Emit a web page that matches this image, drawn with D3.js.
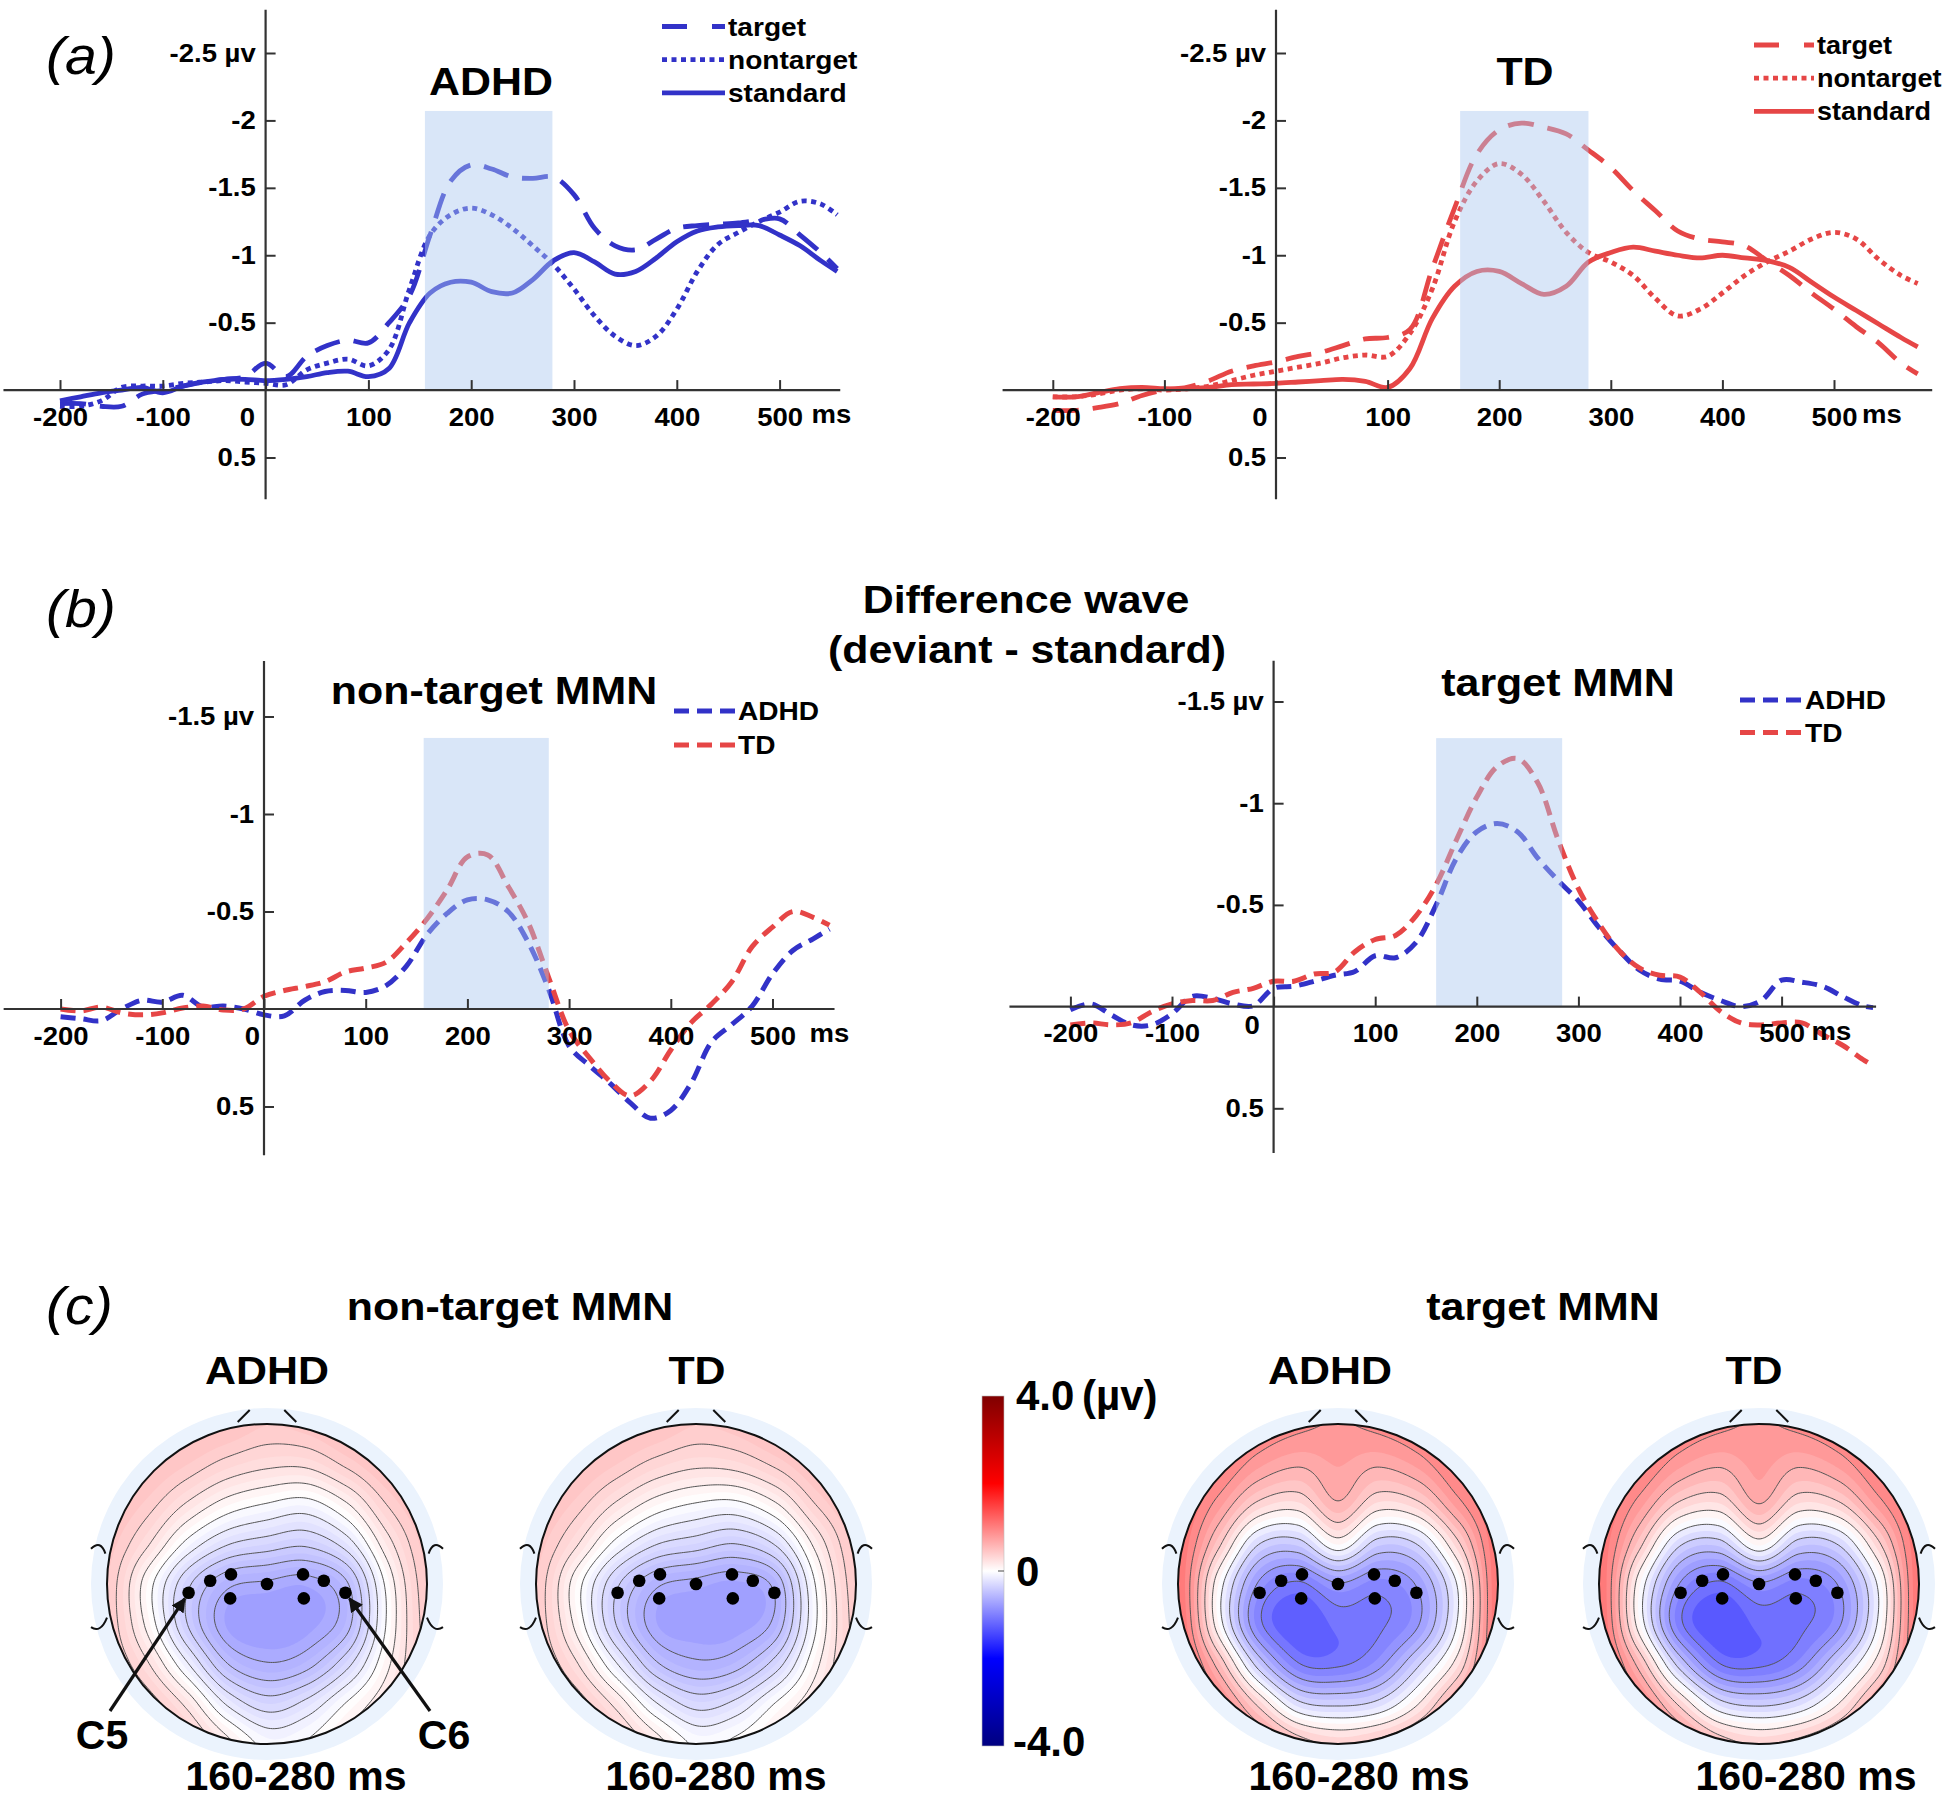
<!DOCTYPE html>
<html>
<head>
<meta charset="utf-8">
<title>MMN waves and topographies</title>
<script src="https://cdn.jsdelivr.net/npm/d3@7"></script>
<style>
  body { margin: 0; background: #fff; }
  svg text { font-family: "Liberation Sans", Arial, Helvetica, sans-serif; font-weight: bold; fill: #000; }
</style>
</head>
<body>
<svg id="figure" width="1949" height="1800"></svg>
<script>
// ---------- data (µV, negative plotted upward) ----------
var xTicks = [-200, -100, 0, 100, 200, 300, 400, 500];
var yTicksA = [-2.5, -2, -1.5, -1, -0.5, 0.5];
var yTicksB = [-1.5, -1, -0.5, 0.5];

var timeLeft = [-200,-180,-160,-140,-120,-100,-80,-60,-40,-20,0,20,40,60,80,100,120,140,160,180,200,220,240,260,280,300,320,340,360,380,400,420,440,460,480,500,520,540,556];
var timeRightA = [-200,-180,-160,-140,-120,-100,-80,-60,-40,-20,0,20,40,60,80,100,120,140,160,180,200,220,240,260,280,300,320,340,360,380,400,420,440,460,480,500,520,540,560,575];
var timeRightB = [-200,-180,-160,-140,-120,-100,-80,-60,-40,-20,0,20,40,60,80,100,120,140,160,180,200,220,240,260,280,300,320,340,360,380,400,420,440,460,480,500,520,540,560,580,590];

// (a) ADHD
var adhdTarget = [0.10,0.10,0.12,0.12,0.03,0.00,-0.03,-0.06,-0.08,-0.10,-0.20,-0.10,-0.25,-0.33,-0.37,-0.35,-0.50,-0.70,-1.15,-1.55,-1.67,-1.64,-1.58,-1.57,-1.58,-1.45,-1.20,-1.07,-1.04,-1.12,-1.20,-1.22,-1.23,-1.24,-1.26,-1.27,-1.15,-1.02,-0.90];
var adhdNontarget = [0.12,0.12,0.08,-0.02,-0.03,-0.03,-0.05,-0.06,-0.07,-0.06,-0.05,-0.04,-0.15,-0.20,-0.23,-0.18,-0.30,-0.75,-1.15,-1.30,-1.35,-1.30,-1.20,-1.07,-0.93,-0.75,-0.55,-0.40,-0.33,-0.40,-0.60,-0.88,-1.08,-1.17,-1.25,-1.32,-1.40,-1.38,-1.30];
var adhdStandard = [0.08,0.05,0.02,0.00,-0.02,0.02,-0.03,-0.06,-0.08,-0.08,-0.07,-0.08,-0.10,-0.13,-0.14,-0.10,-0.16,-0.50,-0.72,-0.80,-0.80,-0.73,-0.72,-0.82,-0.96,-1.02,-0.95,-0.86,-0.88,-0.98,-1.10,-1.18,-1.21,-1.22,-1.22,-1.15,-1.07,-0.96,-0.88];
// (a) TD
var tdTarget = [0.15,0.15,0.13,0.10,0.04,0.00,-0.02,-0.07,-0.14,-0.18,-0.21,-0.25,-0.28,-0.33,-0.38,-0.39,-0.45,-0.90,-1.35,-1.75,-1.93,-1.98,-1.95,-1.90,-1.78,-1.65,-1.48,-1.33,-1.18,-1.12,-1.10,-1.07,-0.96,-0.85,-0.72,-0.60,-0.47,-0.35,-0.20,-0.12];
var tdNontarget = [0.05,0.05,0.03,0.00,-0.01,0.00,-0.01,-0.03,-0.07,-0.11,-0.14,-0.17,-0.20,-0.24,-0.26,-0.25,-0.42,-0.75,-1.25,-1.55,-1.68,-1.60,-1.40,-1.17,-1.02,-0.95,-0.85,-0.68,-0.55,-0.60,-0.72,-0.85,-0.95,-1.03,-1.12,-1.17,-1.12,-0.97,-0.85,-0.79];
var tdStandard = [0.05,0.05,0.02,-0.01,-0.02,-0.01,-0.01,-0.02,-0.04,-0.045,-0.05,-0.06,-0.07,-0.08,-0.065,-0.02,-0.16,-0.53,-0.77,-0.88,-0.88,-0.79,-0.71,-0.77,-0.95,-1.02,-1.06,-1.03,-1.00,-0.98,-1.00,-0.98,-0.96,-0.91,-0.80,-0.69,-0.59,-0.49,-0.39,-0.32];
// (b) difference waves
var adhdNonMmn = [0.04,0.05,0.06,0.00,-0.045,-0.035,-0.07,-0.01,-0.015,0.00,0.03,0.035,-0.045,-0.09,-0.095,-0.085,-0.12,-0.22,-0.38,-0.49,-0.56,-0.56,-0.50,-0.34,-0.10,0.19,0.29,0.38,0.48,0.56,0.52,0.38,0.17,0.08,-0.015,-0.18,-0.30,-0.36,-0.41];
var tdNonMmn = [0.00,0.01,-0.01,0.02,0.03,0.02,-0.005,-0.015,0.005,0.00,-0.065,-0.095,-0.115,-0.14,-0.19,-0.21,-0.24,-0.34,-0.46,-0.61,-0.78,-0.79,-0.63,-0.44,-0.16,0.11,0.25,0.37,0.445,0.37,0.21,0.07,-0.025,-0.14,-0.32,-0.42,-0.50,-0.47,-0.43];
var adhdTarMmn = [0.015,-0.013,0.04,0.09,0.09,0.035,-0.05,-0.04,-0.013,-0.004,-0.09,-0.10,-0.125,-0.154,-0.173,-0.25,-0.24,-0.314,-0.50,-0.73,-0.86,-0.90,-0.86,-0.73,-0.62,-0.52,-0.39,-0.276,-0.18,-0.135,-0.125,-0.07,-0.03,0.00,-0.03,-0.13,-0.12,-0.10,-0.05,-0.004,0.005];
var tdTarMmn = [0.09,0.08,0.09,0.08,0.025,-0.013,-0.03,-0.03,-0.07,-0.09,-0.125,-0.125,-0.16,-0.17,-0.27,-0.33,-0.35,-0.445,-0.60,-0.82,-1.03,-1.18,-1.22,-1.10,-0.82,-0.58,-0.41,-0.276,-0.19,-0.154,-0.145,-0.07,0.024,0.08,0.09,0.08,0.08,0.137,0.19,0.26,0.29];

// analysis windows (ms) and their top (µV)
var windowADHD = [155, 279, -2.07];
var windowTD = [165, 280, -2.07];
var windowNonMmn = [157, 280, -1.39];
var windowTarMmn = [160, 284, -1.32];

// (c) scalp maps: values on a 9 x 9 grid, u and w from -1 to 1 (head radius units)
var gridPos = [-1, -0.75, -0.5, -0.25, 0, 0.25, 0.5, 0.75, 1];
var mapNonAdhd = [
  [0.55, 0.55, 0.52, 0.48, 0.42, 0.45, 0.52, 0.55, 0.55],
  [0.55, 0.50, 0.42, 0.32, 0.26, 0.26, 0.38, 0.50, 0.55],
  [0.50, 0.40, 0.22, 0.06, -0.02, -0.06, 0.10, 0.36, 0.50],
  [0.45, 0.25, -0.05, -0.25, -0.32, -0.36, -0.20, 0.18, 0.45],
  [0.42, 0.05, -0.35, -0.60, -0.65, -0.68, -0.52, 0.02, 0.42],
  [0.42, 0.08, -0.38, -0.70, -0.75, -0.72, -0.55, 0.00, 0.40],
  [0.45, 0.25, -0.12, -0.50, -0.62, -0.55, -0.30, 0.08, 0.38],
  [0.50, 0.42, 0.20, -0.15, -0.32, -0.22, 0.00, 0.20, 0.40],
  [0.55, 0.50, 0.38, 0.15, -0.05, 0.00, 0.15, 0.30, 0.45]
];
var mapNonTd = [
  [0.55, 0.55, 0.52, 0.48, 0.42, 0.45, 0.52, 0.55, 0.55],
  [0.55, 0.50, 0.42, 0.32, 0.26, 0.28, 0.38, 0.50, 0.55],
  [0.50, 0.40, 0.22, 0.06, -0.02, -0.04, 0.10, 0.36, 0.50],
  [0.45, 0.25, -0.05, -0.25, -0.32, -0.38, -0.24, 0.15, 0.45],
  [0.42, 0.05, -0.35, -0.60, -0.66, -0.70, -0.58, 0.00, 0.42],
  [0.42, 0.08, -0.38, -0.68, -0.72, -0.72, -0.58, -0.02, 0.40],
  [0.45, 0.25, -0.12, -0.48, -0.60, -0.55, -0.32, 0.08, 0.38],
  [0.50, 0.42, 0.20, -0.12, -0.30, -0.22, 0.00, 0.20, 0.40],
  [0.55, 0.50, 0.38, 0.17, -0.03, 0.02, 0.15, 0.30, 0.45]
];
var mapTarAdhd = [
  [1.20, 1.15, 1.00, 0.90, 0.85, 0.90, 1.00, 1.15, 1.20],
  [1.20, 1.05, 0.78, 0.65, 0.75, 0.65, 0.78, 1.05, 1.20],
  [1.15, 0.80, 0.35, 0.25, 0.60, 0.25, 0.35, 0.80, 1.15],
  [1.10, 0.45, -0.30, -0.40, 0.05, -0.40, -0.30, 0.35, 1.10],
  [1.10, 0.05, -0.80, -1.05, -0.80, -0.95, -0.75, -0.05, 1.10],
  [1.15, 0.05, -0.95, -1.25, -1.10, -1.05, -0.80, -0.05, 1.10],
  [1.20, 0.55, -0.40, -1.00, -1.05, -0.85, -0.35, 0.25, 1.10],
  [1.20, 0.95, 0.35, -0.25, -0.35, -0.25, 0.15, 0.70, 1.10],
  [1.20, 1.10, 0.85, 0.50, 0.35, 0.45, 0.65, 0.95, 1.10]
];
var mapTarTd = [
  [1.20, 1.15, 1.00, 0.90, 0.85, 0.90, 1.00, 1.15, 1.20],
  [1.20, 1.05, 0.78, 0.65, 0.78, 0.65, 0.78, 1.05, 1.20],
  [1.15, 0.80, 0.35, 0.25, 0.62, 0.25, 0.35, 0.80, 1.15],
  [1.10, 0.45, -0.30, -0.42, 0.05, -0.42, -0.32, 0.35, 1.10],
  [1.12, 0.05, -0.82, -1.10, -0.85, -1.00, -0.80, -0.05, 1.10],
  [1.15, 0.05, -1.00, -1.30, -1.15, -1.10, -0.85, -0.05, 1.10],
  [1.20, 0.55, -0.42, -1.05, -1.10, -0.90, -0.38, 0.25, 1.10],
  [1.20, 0.95, 0.35, -0.25, -0.38, -0.25, 0.15, 0.70, 1.10],
  [1.20, 1.10, 0.85, 0.50, 0.35, 0.45, 0.65, 0.95, 1.10]
];
var electrodeU = [-0.49, -0.355, -0.225, -0.23, 0, 0.225, 0.355, 0.23, 0.49];
var electrodeW = [0.055, -0.02, -0.06, 0.09, 0, -0.06, -0.02, 0.09, 0.055];

var blue = "#3232c8", red = "#e64646";

var svg = d3.select("#figure");

function label(parent, x, y, str, size, anchor, sx) {
  return parent.append("text")
    .attr("transform", "translate(" + x + "," + y + ") scale(" + (sx || 1) + ",1)")
    .attr("text-anchor", anchor || "start")
    .style("font-size", size + "px")
    .text(str);
}

// ---------- waveform panels ----------
function drawWave(cfg) {
  var g = svg.append("g");
  var x = d3.scaleLinear().domain([-200, 500]).range(cfg.xRange);
  var y = d3.scaleLinear().domain([cfg.yTicks[0], 0.5]).range(cfg.yRange);

  var line = d3.line()
    .x(function(d) { return x(d[0]); })
    .y(function(d) { return y(d[1]); })
    .curve(d3.curveCatmullRom.alpha(0.5));

  cfg.series.forEach(function(s) {
    g.append("path")
      .attr("d", line(d3.zip(cfg.time, s.values)))
      .attr("fill", "none")
      .attr("stroke", s.color)
      .attr("stroke-width", s.width)
      .attr("stroke-dasharray", s.dash)
      .attr("stroke-linejoin", "round");
  });

  // shaded analysis window (drawn over the waves, semi transparent)
  g.append("rect")
    .attr("x", x(cfg.win[0]))
    .attr("width", x(cfg.win[1]) - x(cfg.win[0]))
    .attr("y", y(cfg.win[2]))
    .attr("height", y(0) - y(cfg.win[2]))
    .attr("fill", "rgb(170,200,240)")
    .attr("opacity", 0.45);

  // axes crossing at zero
  g.append("line")
    .attr("x1", x(cfg.xExt[0])).attr("x2", x(cfg.xExt[1]))
    .attr("y1", y(0)).attr("y2", y(0))
    .attr("stroke", "#333").attr("stroke-width", 2.2);
  g.append("line")
    .attr("x1", x(0)).attr("x2", x(0))
    .attr("y1", y(cfg.yExt[0])).attr("y2", y(cfg.yExt[1]))
    .attr("stroke", "#333").attr("stroke-width", 2.2);

  var xa = g.append("g")
    .attr("transform", "translate(0," + y(0) + ")")
    .call(d3.axisBottom(x).tickValues(xTicks).tickSizeInner(-10).tickSizeOuter(0)
      .tickPadding(18).tickFormat(function(d) { return String(d); }));
  xa.select(".domain").remove();
  xa.attr("font-size", 25).attr("color", "#333");
  xa.selectAll(".tick line").attr("stroke-width", 2);
  xa.selectAll(".tick text").attr("transform", "scale(1.1,1)");
  xa.selectAll(".tick text").filter(function(d) { return d === 0; })
    .attr("x", cfg.zeroDx).attr("y", 18 + cfg.zeroDy);

  var ya = g.append("g")
    .attr("transform", "translate(" + x(0) + ",0)")
    .call(d3.axisLeft(y).tickValues(cfg.yTicks).tickSizeInner(-10).tickSizeOuter(0)
      .tickPadding(9).tickFormat(function(d, i) { return i === 0 ? d + " µv" : String(d); }));
  ya.select(".domain").remove();
  ya.attr("font-size", 25).attr("color", "#333");
  ya.selectAll(".tick line").attr("stroke-width", 2);
  ya.selectAll(".tick text").attr("transform", "scale(1.1,1)");

  label(g, x(500) + cfg.msDx, y(0) + 33, "ms", 25, "start", 1.1);

  // title
  label(g, cfg.title[1], cfg.title[2], cfg.title[0], 39, "middle", 1.1);

  // legend
  cfg.series.forEach(function(s, i) {
    var ly = cfg.legend[2] + i * cfg.legend[3];
    g.append("line")
      .attr("x1", cfg.legend[0]).attr("x2", cfg.legend[1])
      .attr("y1", ly).attr("y2", ly)
      .attr("stroke", s.color).attr("stroke-width", s.width)
      .attr("stroke-dasharray", s.legendDash || s.dash);
    label(g, cfg.legend[1] + 3, ly + 9, s.name, cfg.legend[4], "start", 1.08);
  });
}

drawWave({
  time: timeLeft, xRange: [60, 779.6], yRange: [53, 457.5], yTicks: yTicksA,
  xExt: [-255, 559], yExt: [-2.82, 0.81], win: windowADHD,
  zeroDx: -17, zeroDy: 0, msDx: 32, title: ["ADHD", 491, 95],
  legend: [662, 725, 26.5, 33.2, 26],
  series: [
    {name: "target", values: adhdTarget, color: blue, width: 4.8, dash: "26,14", legendDash: "25,25"},
    {name: "nontarget", values: adhdNontarget, color: blue, width: 4.8, dash: "5,4.5"},
    {name: "standard", values: adhdStandard, color: blue, width: 4.8, dash: null}
  ]
});
drawWave({
  time: timeRightA, xRange: [1052.8, 1834], yRange: [53, 457.5], yTicks: yTicksA,
  xExt: [-245, 588], yExt: [-2.82, 0.81], win: windowTD,
  zeroDx: -15, zeroDy: 0, msDx: 28, title: ["TD", 1525, 85],
  legend: [1754, 1814, 45, 33.2, 25],
  series: [
    {name: "target", values: tdTarget, color: red, width: 4.8, dash: "26,14", legendDash: "25,25"},
    {name: "nontarget", values: tdNontarget, color: red, width: 4.8, dash: "5,4.5"},
    {name: "standard", values: tdStandard, color: red, width: 4.8, dash: null}
  ]
});
drawWave({
  time: timeLeft, xRange: [60.6, 772.5], yRange: [716.5, 1106.5], yTicks: yTicksB,
  xExt: [-256, 561], yExt: [-1.785, 0.75], win: windowNonMmn,
  zeroDx: -11, zeroDy: 0, msDx: 37, title: ["non-target MMN", 494, 704],
  legend: [674, 735, 711, 34, 26],
  series: [
    {name: "ADHD", values: adhdNonMmn, color: blue, width: 5, dash: "15,8"},
    {name: "TD", values: tdNonMmn, color: red, width: 5, dash: "15,8"}
  ]
});
drawWave({
  time: timeRightB, xRange: [1070.4, 1781.6], yRange: [701.5, 1108.3], yTicks: yTicksB,
  xExt: [-260, 593], yExt: [-1.70, 0.72], win: windowTarMmn,
  zeroDx: -20, zeroDy: -8, msDx: 30, title: ["target MMN", 1558, 696],
  legend: [1740, 1802, 700, 32.5, 26],
  series: [
    {name: "ADHD", values: adhdTarMmn, color: blue, width: 5, dash: "15,8"},
    {name: "TD", values: tdTarMmn, color: red, width: 5, dash: "15,8"}
  ]
});

// panel letters and titles
[["(a)", 46, 74], ["(b)", 46, 627], ["(c)", 46, 1324]].forEach(function(p) {
  label(svg, p[1], p[2], p[0], 52, "start", 1.1)
    .style("font-style", "italic").style("font-weight", "normal");
});
label(svg, 1026, 613, "Difference wave", 39, "middle", 1.1);
label(svg, 1027, 663, "(deviant - standard)", 39, "middle", 1.1);
label(svg, 510, 1320, "non-target MMN", 39, "middle", 1.1);
label(svg, 1543, 1320, "target MMN", 39, "middle", 1.1);

// ---------- scalp maps ----------
var cmap = d3.scaleLinear().domain([-4, -2, 0, 2, 4])
  .range(["#000080", "#0000ff", "#ffffff", "#ff0000", "#800000"]);

var headCx = [267, 696, 1338, 1759], headCy = 1584, headR = 160;
var headNames = ["ADHD", "TD", "ADHD", "TD"];
var headTitleX = [267, 697, 1330, 1754];
var rangeLabelX = [296, 716, 1359, 1806];
var maps = [mapNonAdhd, mapNonTd, mapTarAdhd, mapTarTd];

function cubic(p0, p1, p2, p3, t) {
  return p1 + 0.5 * t * (p2 - p0 + t * (2 * p0 - 5 * p1 + 4 * p2 - p3 + t * (3 * (p1 - p2) + p3 - p0)));
}
function sampleGrid(grid, u, w) {
  var last = gridPos.length - 1, step = gridPos[1] - gridPos[0];
  var fx = Math.max(0, Math.min(last, (u - gridPos[0]) / step));
  var fy = Math.max(0, Math.min(last, (w - gridPos[0]) / step));
  var i = Math.min(last - 1, Math.floor(fx)), j = Math.min(last - 1, Math.floor(fy));
  var tx = fx - i, ty = fy - j;
  function at(r, c) {
    r = Math.max(0, Math.min(last, r)); c = Math.max(0, Math.min(last, c));
    return grid[r][c];
  }
  var rows = [];
  for (var r = j - 1; r <= j + 2; r++) {
    rows.push(cubic(at(r, i - 1), at(r, i), at(r, i + 1), at(r, i + 2), tx));
  }
  return cubic(rows[0], rows[1], rows[2], rows[3], ty);
}

var defs = svg.append("defs");
defs.append("marker").attr("id", "arrowHead")
  .attr("viewBox", "0 0 10 10").attr("refX", 9).attr("refY", 5)
  .attr("markerWidth", 4.5).attr("markerHeight", 4.5).attr("orient", "auto")
  .append("path").attr("d", "M0,0L10,5L0,10z").attr("fill", "#111");

maps.forEach(function(grid, k) {
  var cx = headCx[k], cy = headCy, R = headR;
  var g = svg.append("g");
  var n = 150, ext = 1.05;
  var vals = new Array(n * n), lo = Infinity, hi = -Infinity;
  for (var j = 0; j < n; j++) {
    for (var i = 0; i < n; i++) {
      var u = -ext + (i + 0.5) * 2 * ext / n, w = -ext + (j + 0.5) * 2 * ext / n;
      var v = sampleGrid(grid, u, w);
      vals[j * n + i] = v;
      if (u * u + w * w <= 1) { lo = Math.min(lo, v); hi = Math.max(hi, v); }
    }
  }
  var lineStep = (hi - lo) / 10;
  var fillTh = d3.range(0, 20).map(function(q) { return lo + q * lineStep / 2; });
  fillTh[0] = -10;
  var lineTh = d3.range(1, 10).map(function(q) { return lo + q * lineStep; });

  var proj = d3.geoTransform({
    point: function(px, py) {
      this.stream.point(cx + R * (-ext + px * 2 * ext / n), cy + R * (-ext + py * 2 * ext / n));
    }
  });
  var path = d3.geoPath(proj);

  defs.append("clipPath").attr("id", "headClip" + k)
    .append("circle").attr("cx", cx).attr("cy", cy).attr("r", R);

  // pale surround
  g.append("circle").attr("cx", cx).attr("cy", cy).attr("r", R * 1.1).attr("fill", "#ebf3fd");

  var inner = g.append("g").attr("clip-path", "url(#headClip" + k + ")");
  inner.selectAll("path.band")
    .data(d3.contours().size([n, n]).thresholds(fillTh)(vals))
    .join("path")
    .attr("class", "band")
    .attr("d", path)
    .attr("fill", function(d, q) { return cmap(q === 0 ? lo : d.value + lineStep / 4); })
    .attr("stroke", "none");
  inner.selectAll("path.iso")
    .data(d3.contours().size([n, n]).thresholds(lineTh)(vals))
    .join("path")
    .attr("class", "iso")
    .attr("d", path)
    .attr("fill", "none")
    .attr("stroke", "#555")
    .attr("stroke-width", 1);

  g.append("circle").attr("cx", cx).attr("cy", cy).attr("r", R)
    .attr("fill", "none").attr("stroke", "#111").attr("stroke-width", 2);

  // nose and ears
  var hx = function(a) { return cx + a * R; }, hy = function(a) { return cy + a * R; };
  [-1, 1].forEach(function(sd) {
    g.append("line")
      .attr("x1", hx(sd * 0.183)).attr("y1", hy(-1.013))
      .attr("x2", hx(sd * 0.108)).attr("y2", hy(-1.088))
      .attr("stroke", "#111").attr("stroke-width", 2);
    g.append("path")
      .attr("d", "M" + hx(sd * 1.10) + "," + hy(-0.22) + "Q" + hx(sd * 1.04) + "," + hy(-0.28) + " " + hx(sd * 1.01) + "," + hy(-0.19))
      .attr("fill", "none").attr("stroke", "#111").attr("stroke-width", 2);
    g.append("path")
      .attr("d", "M" + hx(sd * 1.10) + "," + hy(0.27) + "Q" + hx(sd * 1.04) + "," + hy(0.31) + " " + hx(sd * 1.0) + "," + hy(0.21))
      .attr("fill", "none").attr("stroke", "#111").attr("stroke-width", 2);
  });

  // electrodes
  g.selectAll("circle.elec")
    .data(d3.range(electrodeU.length))
    .join("circle")
    .attr("class", "elec")
    .attr("cx", function(e) { return hx(electrodeU[e]); })
    .attr("cy", function(e) { return hy(electrodeW[e]); })
    .attr("r", 6.3)
    .attr("fill", "#000");

  label(g, headTitleX[k], 1384, headNames[k], 39, "middle", 1.1);
  label(g, rangeLabelX[k], 1790, "160-280 ms", 41, "middle", 1);

  if (k === 0) {
    [[0, 110, 1711, "C5", 102], [8, 430, 1711, "C6", 444]].forEach(function(a) {
      var ex = hx(electrodeU[a[0]]), ey = hy(electrodeW[a[0]]);
      var dx = a[1] - ex, dy = a[2] - ey, len = Math.sqrt(dx * dx + dy * dy);
      g.append("line")
        .attr("x1", a[1]).attr("y1", a[2])
        .attr("x2", ex + dx / len * 7).attr("y2", ey + dy / len * 7)
        .attr("stroke", "#111").attr("stroke-width", 3.2)
        .attr("marker-end", "url(#arrowHead)");
      label(g, a[4], 1749, a[3], 41, "middle", 1);
    });
  }
});

// colour bar
var grad = defs.append("linearGradient").attr("id", "cbar")
  .attr("x1", 0).attr("y1", 1).attr("x2", 0).attr("y2", 0);
cmap.domain().forEach(function(v) {
  grad.append("stop").attr("offset", (v + 4) / 8).attr("stop-color", cmap(v));
});
var cbScale = d3.scaleLinear().domain([-4, 4]).range([1746, 1396]);
svg.append("rect").attr("x", 982).attr("y", cbScale(4))
  .attr("width", 22).attr("height", cbScale(-4) - cbScale(4))
  .attr("fill", "url(#cbar)").attr("stroke", "#bbb").attr("stroke-width", 0.6);
svg.append("line").attr("x1", 998).attr("x2", 1004)
  .attr("y1", cbScale(0)).attr("y2", cbScale(0)).attr("stroke", "#666").attr("stroke-width", 1.2);
label(svg, 1016, cbScale(4) + 14, "4.0", 42, "start", 1);
label(svg, 1082, cbScale(4) + 14, "(µv)", 42, "start", 1);
label(svg, 1016, cbScale(0) + 15, "0", 42, "start", 1);
label(svg, 1013, cbScale(-4) + 10, "-4.0", 42, "start", 1);
</script>
</body>
</html>
